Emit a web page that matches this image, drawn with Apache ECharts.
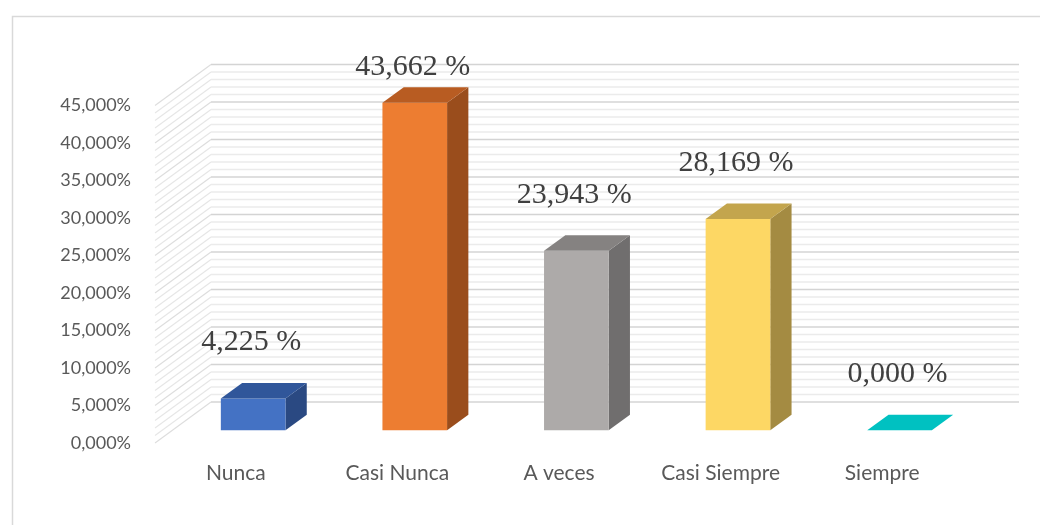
<!DOCTYPE html>
<html>
<head>
<meta charset="utf-8">
<script src="https://cdn.jsdelivr.net/npm/echarts@6/dist/echarts.min.js"></script>
<style>html,body{margin:0;padding:0;background:#fff;}#c{width:1040px;height:525px;}</style>
</head>
<body>
<div id="c"></div>
<script>
var categories = ['Nunca', 'Casi Nunca', 'A veces', 'Casi Siempre', 'Siempre'];
var values = [4.225, 43.662, 23.943, 28.169, 0.000];
var frontColors = ['#4472C4', '#ED7D31', '#ADAAA9', '#FDD764', '#00C1C1'];
var topColors = ['#30569A', '#B85C22', '#858281', '#C3A54D', '#00C1C1'];
var sideColors = ['#2A4982', '#9A4D1C', '#706E6E', '#A48B42', '#00A0A0'];
var yTicks = [0, 5, 10, 15, 20, 25, 30, 35, 40, 45];

var DX = 56, DY = 41;          // full depth of the floor
var F0 = 0.31, FD = 0.38;     // bar front depth fraction, bar depth fraction

var gridLines = [];
for (var v = yTicks[0]; v <= yTicks[yTicks.length - 1]; v += 1) gridLines.push(v);

var chart = echarts.init(document.getElementById('c'));

function fmtPct(v) { return v.toFixed(3).replace('.', ',') + '%'; }

var option = {
  animation: false,
  backgroundColor: '#fff',
  graphic: [{
    type: 'rect', shape: { x: 12.5, y: 16.5, width: 1100, height: 600 },
    style: { fill: 'none', stroke: '#D9D9D9', lineWidth: 1.5 }, silent: true
  }],
  grid: { left: 155, right: 77, top: 105.5, bottom: 82 },
  xAxis: {
    type: 'category', data: categories,
    axisLine: { show: false }, axisTick: { show: false },
    axisLabel: { color: '#595959', fontFamily: 'Lato', fontSize: 21, margin: 20, lineHeight: 21 }
  },
  yAxis: {
    type: 'value', min: 0, max: 45, interval: 5,
    axisLine: { show: false }, axisTick: { show: false }, splitLine: { show: false },
    axisLabel: { color: '#595959', fontFamily: 'Lato', fontSize: 18, margin: 24, formatter: fmtPct }
  },
  series: [
    {
      type: 'custom', silent: true, z: 1,
      data: gridLines,
      renderItem: function (params, api) {
        var v = api.value(0);
        var left = api.coord([0, v]);
        var band = api.size([1, 0])[0];
        var x0 = left[0] - band / 2;
        var x1 = x0 + band * categories.length;
        var y = left[1];
        var major = (v % 5 === 0);
        var col = major ? '#D4D4D4' : '#EBEBEB';
        var lw = major ? 1.6 : 1.3;
        return {
          type: 'group', children: [
            { type: 'line', shape: { x1: x0, y1: y, x2: x0 + DX, y2: y - DY }, style: { stroke: major ? '#DDDDDD' : '#E6E6E6', lineWidth: 1.1 } },
            { type: 'line', shape: { x1: x0 + DX, y1: y - DY, x2: x1 + DX, y2: y - DY }, style: { stroke: col, lineWidth: lw } }
          ]
        };
      }
    },
    {
      type: 'custom', silent: true, z: 2,
      data: values.map(function (v, i) { return [i, v]; }),
      renderItem: function (params, api) {
        var i = api.value(0), v = api.value(1);
        var base = api.coord([i, 0]);
        var topP = api.coord([i, v]);
        var band = api.size([1, 0])[0];
        var w = band * 0.4;
        var fx = base[0] + DX * F0, fyB = base[1] - DY * F0, fyT = topP[1] - DY * F0;
        var xl = fx - w / 2, xr = fx + w / 2;
        var ddx = DX * FD, ddy = DY * FD;
        var children = [];
        if (fyB - fyT > 0.5) {
          children.push({ type: 'polygon', shape: { points: [[xr, fyT], [xr + ddx, fyT - ddy], [xr + ddx, fyB - ddy], [xr, fyB]] }, style: { fill: sideColors[i] } });
          children.push({ type: 'rect', shape: { x: xl, y: fyT, width: w, height: fyB - fyT }, style: { fill: frontColors[i] } });
        }
        children.push({ type: 'polygon', shape: { points: [[xl, fyT], [xr, fyT], [xr + ddx, fyT - ddy], [xl + ddx, fyT - ddy]] }, style: { fill: topColors[i] } });
        var ly = Math.max(fyT - 56, 67);
        children.push({ type: 'text', x: fx - 2, y: ly, style: { text: values[i].toFixed(3).replace('.', ',') + ' %', fill: '#404040', font: '30px "Liberation Serif"', align: 'center', verticalAlign: 'middle' } });
        return { type: 'group', children: children };
      }
    }
  ]
};
chart.setOption(option);
</script>
</body>
</html>
